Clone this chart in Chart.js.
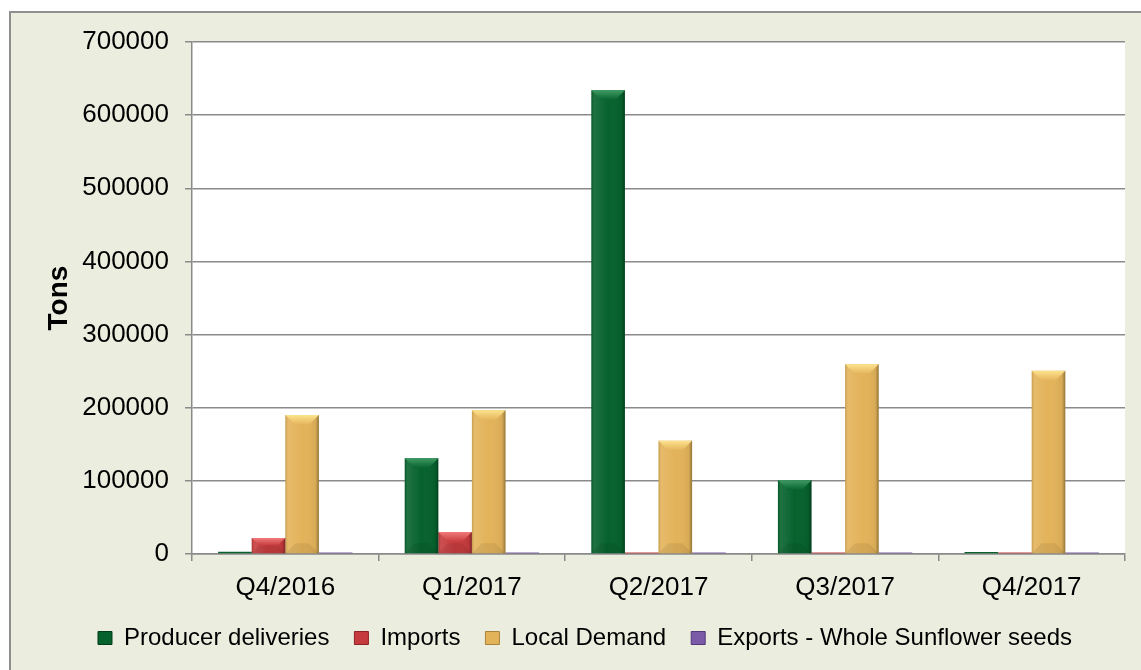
<!DOCTYPE html>
<html>
<head>
<meta charset="utf-8">
<script src="https://cdn.jsdelivr.net/npm/chart.js@4.4.1/dist/chart.umd.min.js"></script>
<style>
  body { margin: 0; background: #ffffff; overflow: hidden; }
  .frame {
    position: absolute; left: 9px; top: 11px; width: 1160px; height: 690px;
    background: #ebeedf; border: 2px solid #8f8f8f;
  }
  canvas { display: block; margin-top: 1px; }
</style>
</head>
<body>
<div class="frame"><canvas id="myChart" width="1129" height="656"></canvas></div>
<script>
// quarters and tonnages
const quarters = ["Q4/2016", "Q1/2017", "Q2/2017", "Q3/2017", "Q4/2017"];
const producerDeliveries = [3000, 131000, 634000, 101000, 2700];
const imports = [22000, 30000, 500, 500, 500];
const localDemand = [190000, 196500, 155000, 259500, 250500];
const exportsSeeds = [500, 500, 500, 500, 500];
const yTicks = [0, 100000, 200000, 300000, 400000, 500000, 600000, 700000];

// [top facet, body, dark edge]
const seriesColors = {
  green: ["#3f9a62", "#06622d", "#013d19"],
  red: ["#f27a7a", "#c63b3d", "#8e2224"],
  yellow: ["#fde38e", "#e3b35a", "#a9823c"],
  purple: ["#a88fd6", "#7b5aa8", "#523a7a"]
};
const colList = [seriesColors.green, seriesColors.red, seriesColors.yellow, seriesColors.purple];

// shading + bevel facets on top of each bar, looks roughly like excel's preset
const bevel = {
  id: "bevel",
  afterDatasetsDraw(chart) {
    const ctx = chart.ctx;
    chart.data.datasets.forEach((ds, i) => {
      const meta = chart.getDatasetMeta(i);
      const cols = colList[i];
      meta.data.forEach((bar) => {
        const h = bar.base - bar.y;
        if (h < 1.5) return;
        const l = bar.x - bar.width / 2, r = bar.x + bar.width / 2;
        ctx.save();
        // side shading
        const g = ctx.createLinearGradient(l, 0, r, 0);
        g.addColorStop(0, "rgba(0,0,0,0.12)");
        g.addColorStop(0.08, "rgba(255,255,255,0.10)");
        g.addColorStop(0.5, "rgba(255,255,255,0)");
        g.addColorStop(0.9, "rgba(0,0,0,0.05)");
        g.addColorStop(1, "rgba(0,0,0,0.35)");
        ctx.fillStyle = g;
        ctx.fillRect(l, bar.y, r - l, h);
        if (h >= 6) {
          const d = Math.min(10, h / 2);
          const tg = ctx.createLinearGradient(0, bar.y, 0, bar.y + d);
          tg.addColorStop(0, cols[0]);
          tg.addColorStop(1, cols[1]);
          ctx.fillStyle = tg;
          ctx.beginPath();
          ctx.moveTo(l, bar.y);
          ctx.lineTo(r, bar.y);
          ctx.lineTo(r - d, bar.y + d);
          ctx.lineTo(l + d, bar.y + d);
          ctx.closePath();
          ctx.fill();
          ctx.fillStyle = "rgba(0,0,0,0.07)";
          ctx.beginPath();
          ctx.moveTo(l, bar.base);
          ctx.lineTo(r, bar.base);
          ctx.lineTo(r - d, bar.base - d);
          ctx.lineTo(l + d, bar.base - d);
          ctx.closePath();
          ctx.fill();
        }
        ctx.restore();
      });
    });
  }
};

// white plot area behind the bars
const plotBg = {
  id: "plotBg",
  beforeDraw(chart) {
    const a = chart.chartArea;
    chart.ctx.save();
    chart.ctx.fillStyle = "#ffffff";
    chart.ctx.fillRect(a.left, a.top, a.right - a.left, a.bottom - a.top);
    chart.ctx.restore();
  }
};

function makeSet(label, data, cols) {
  return {
    label: label,
    data: data,
    backgroundColor: cols[1],
    borderWidth: 0,
    minBarLength: 1.5,
    categoryPercentage: 0.72,
    barPercentage: 1.0
  };
}

const chartData = {
  labels: quarters,
  datasets: [
    makeSet("Producer deliveries", producerDeliveries, seriesColors.green),
    makeSet("Imports", imports, seriesColors.red),
    makeSet("Local Demand", localDemand, seriesColors.yellow),
    makeSet("Exports - Whole Sunflower seeds", exportsSeeds, seriesColors.purple)
  ]
};

const axisFont = { family: "'Liberation Sans', Arial", size: 26 };

const ctx = document.getElementById("myChart").getContext("2d");
new Chart(ctx, {
  type: "bar",
  data: chartData,
  plugins: [plotBg, bevel],
  options: {
    responsive: false,
    animation: false,
    layout: { padding: { left: 34, right: 15, top: 28, bottom: 10 } },
    scales: {
      x: {
        afterFit(axis) { axis.height = 47; },
        grid: { display: true, drawOnChartArea: false, drawTicks: true, tickLength: 7, color: "#8a8a8a", lineWidth: 1.5 },
        border: { color: "#8a8a8a", width: 1.5 },
        ticks: { color: "#000", font: axisFont, padding: 11 }
      },
      y: {
        min: 0,
        max: 700000,
        afterFit(axis) {
          axis.width = 147;
          axis.paddingTop = 0; // let layout padding decide where the plot starts
        },
        afterBuildTicks(axis) { axis.ticks = yTicks.map((v) => ({ value: v })); },
        grid: { color: "#8a8a8a", lineWidth: 1.5, tickLength: 7 },
        border: { color: "#8a8a8a", width: 1.5 },
        ticks: { color: "#000", font: axisFont, padding: 16, callback: (v) => String(v) },
        title: {
          display: true,
          text: "Tons",
          color: "#000",
          font: { family: "'Liberation Sans', Arial", size: 28, weight: "bold", lineHeight: 1.0 },
          padding: { top: 0, bottom: 0 }
        }
      }
    },
    plugins: {
      legend: {
        position: "bottom",
        labels: {
          color: "#000",
          font: { family: "'Liberation Sans', Arial", size: 24 },
          boxWidth: 14,
          boxHeight: 13,
          padding: 25,
          generateLabels(chart) {
            return chart.data.datasets.map((ds, i) => ({
              text: ds.label,
              fillStyle: colList[i][1],
              strokeStyle: colList[i][2],
              lineWidth: 1,
              datasetIndex: i
            }));
          }
        }
      },
      tooltip: { enabled: false }
    }
  }
});
</script>
</body>
</html>
